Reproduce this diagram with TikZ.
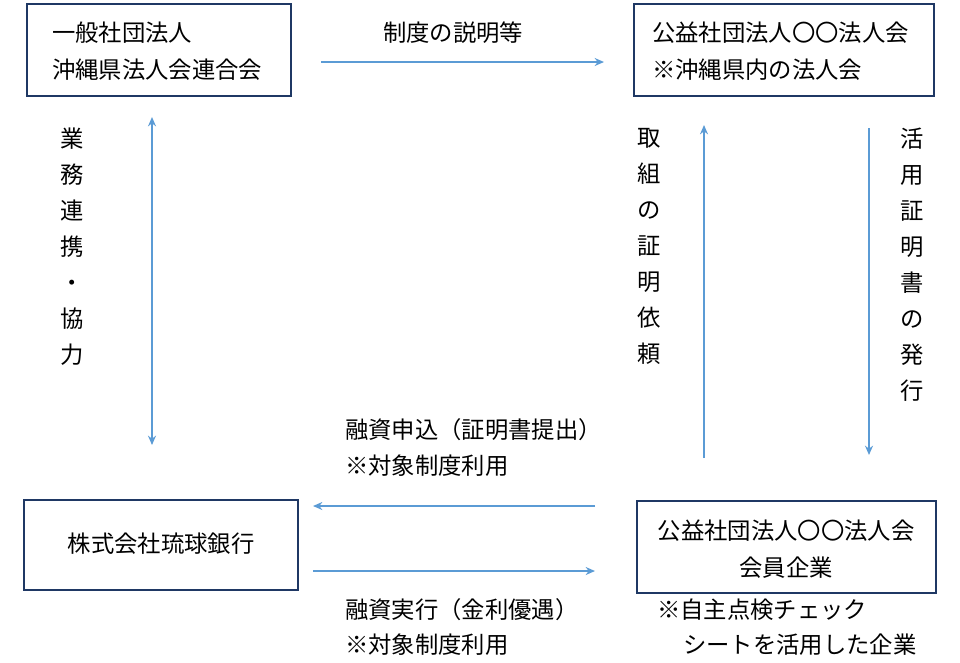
\documentclass[tikz,border=0pt]{standalone}
\usepackage{fontspec}
\setmainfont{Noto Sans CJK JP}
\usetikzlibrary{arrows.meta}
\definecolor{boxc}{HTML}{1F3864}
\definecolor{arr}{HTML}{5B9BD5}
\tikzset{
 box/.style={draw=boxc,line width=1.5pt,inner sep=0pt},
 conn/.style={draw=arr,line width=1.2pt,-{Stealth[length=7pt,width=6pt]}},
 lbl/.style={font=\fontsize{17.5}{27}\selectfont,inner sep=0pt},
 vlbl/.style={font=\fontsize{17.5}{27}\selectfont,inner sep=0pt,text width=1.2em,align=center,anchor=north}
}
\begin{document}
\begin{tikzpicture}[x=0.75pt,y=-0.75pt]
\useasboundingbox (0,0) rectangle (960,662);
\draw[box] (27,4) rectangle (291,96);
\draw[box] (634,4) rectangle (934,96);
\draw[box] (24,500) rectangle (298,590);
\draw[box] (637,501) rectangle (936,593);
\node[lbl,anchor=west] (a1) at (52,33) {一般社団法人};
\node[lbl,anchor=west] (a2) at (52,70) {沖縄県法人会連合会};
\node[lbl,anchor=west] (b1) at (652,33) {公益社団法人〇〇法人会};
\node[lbl,anchor=west] (b2) at (652,70) {※沖縄県内の法人会};
\node[lbl] (c1) at (161,544) {株式会社琉球銀行};
\node[lbl] (d1) at (786,531) {公益社団法人〇〇法人会};
\node[lbl] (d2) at (786,568) {会員企業};
\coordinate (p1) at (321,62); \coordinate (p2) at (604,62);
\draw[conn] (p1) -- (p2);
\node[lbl] (l1) at (453,33) {制度の説明等};
\coordinate (q1) at (152,117); \coordinate (q2) at (152,445);
\draw[conn,{Stealth[length=7pt,width=6pt]}-{Stealth[length=7pt,width=6pt]}] (q1) -- (q2);
\node[vlbl] (v1) at (68,128) {業\\務\\連\\携\\・\\協\\力};
\coordinate (r1) at (704,458); \coordinate (r2) at (704,125);
\draw[conn] (r1) -- (r2);
\node[vlbl] (v2) at (645,128) {取\\組\\の\\証\\明\\依\\頼};
\coordinate (s1) at (869,128); \coordinate (s2) at (869,455);
\draw[conn] (s1) -- (s2);
\node[vlbl] (v3) at (908,128) {活\\用\\証\\明\\書\\の\\発\\行};
\coordinate (t1) at (595,506); \coordinate (t2) at (313,506);
\draw[conn] (t1) -- (t2);
\node[lbl,anchor=west] (l2) at (345,430) {融資申込（証明書提出）};
\node[lbl,anchor=west] (l3) at (345,466) {※対象制度利用};
\coordinate (u1) at (313,571); \coordinate (u2) at (595,571);
\draw[conn] (u1) -- (u2);
\node[lbl,anchor=west] (l4) at (345,610) {融資実行（金利優遇）};
\node[lbl,anchor=west] (l5) at (345,645) {※対象制度利用};
\node[lbl,anchor=west] (l6) at (657,610) {※自主点検チェック};
\node[lbl,anchor=west] (l7) at (683,645) {シートを活用した企業};
\end{tikzpicture}
\end{document}
